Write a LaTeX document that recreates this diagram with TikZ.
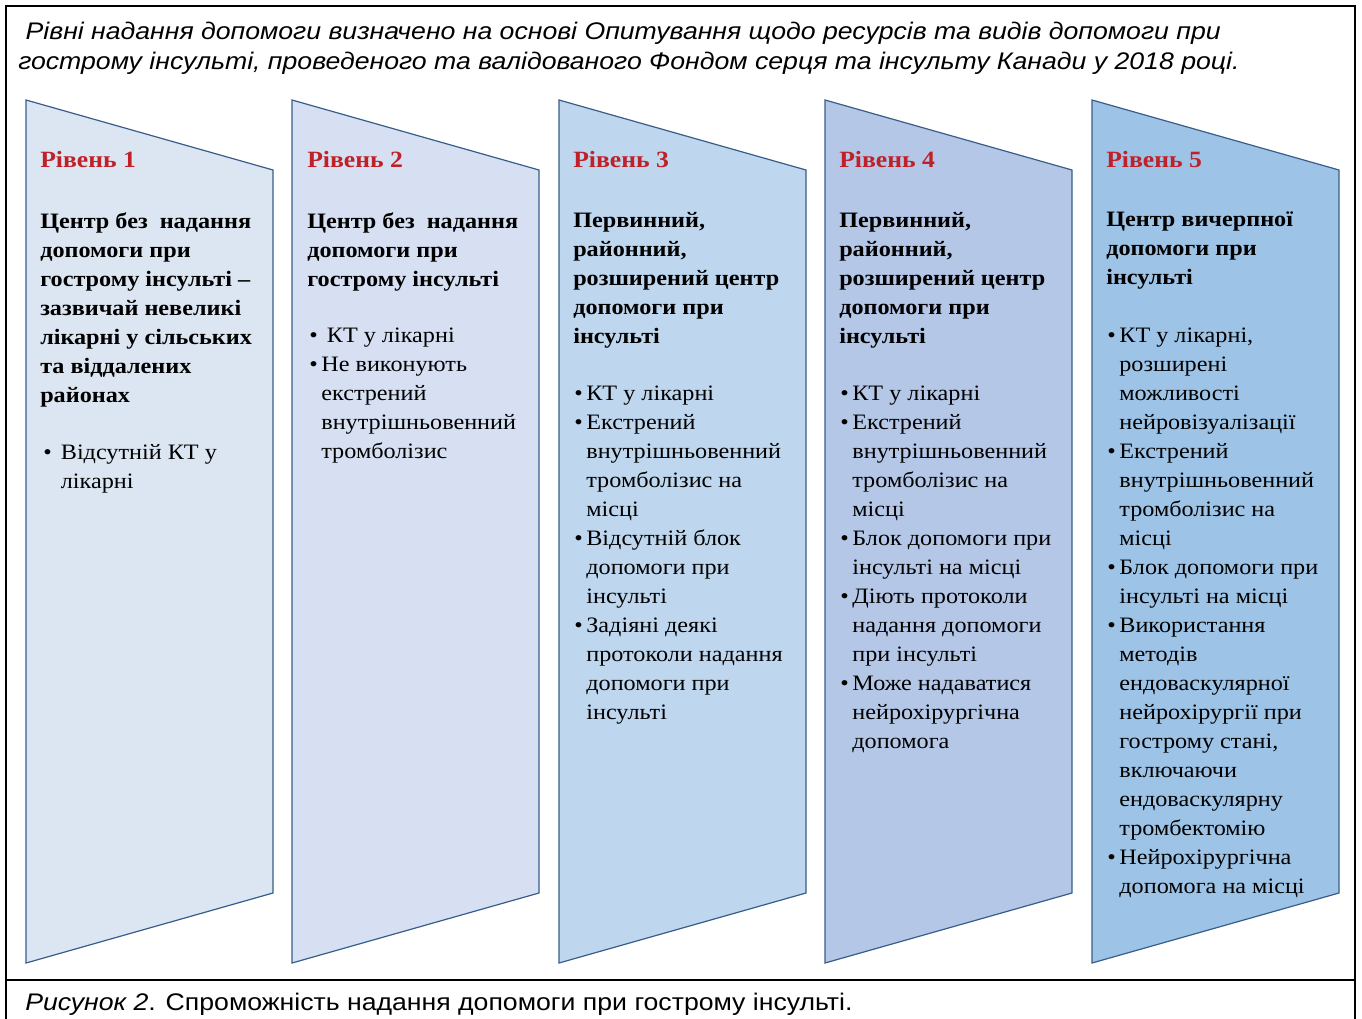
\documentclass[tikz,border=0pt]{standalone}
\usepackage{fontspec}
\setmainfont{Liberation Serif}[FakeStretch=1.1]
\newfontfamily\capfont{Liberation Sans}[FakeStretch=1.11]
\usetikzlibrary{positioning}
\definecolor{lvlone}{RGB}{220,230,242}
\definecolor{lvltwo}{RGB}{214,224,242}
\definecolor{lvlthree}{RGB}{190,215,238}
\definecolor{lvlfour}{RGB}{180,199,231}
\definecolor{lvlfive}{RGB}{157,195,230}
\definecolor{lvlred}{RGB}{192,32,40}
\definecolor{lvledge}{RGB}{56,93,138}
% bullet and hanging indent for the lists
\newcommand{\itemdot}[1][0.55em]{\makebox[#1][l]{\textbullet}}
\newcommand{\itemgap}[1][0.55em]{\hspace*{#1}}

\begin{document}
\begin{tikzpicture}[x=0.75pt,y=-0.75pt,
  level/.style={draw=lvledge,line width=0.9pt},
  lvltag/.style={anchor=base west,inner sep=0,text=lvlred,font=\fontsize{17.5}{21.75}\selectfont\bfseries},
  head/.style={anchor=north west,inner sep=0,align=left,font=\fontsize{16.5}{21.75}\selectfont\bfseries},
  items/.style={anchor=north west,inner sep=0,align=left,font=\fontsize{16.5}{21.75}\selectfont},
  note/.style={inner sep=0,align=left,font=\capfont\fontsize{18}{22.5}\selectfont}]
  \useasboundingbox (0,0) rectangle (1362,1019);
  % Frame
  \draw[line width=1.2pt] (6,1030) -- (6,6) -- (1355,6) -- (1355,1030);
  \draw[line width=1.2pt] (6,980) -- (1355,980);
  \node[note,anchor=north west] (title) at (18,22)
    {\itshape ~Рівні надання допомоги визначено на основі Опитування щодо ресурсів та видів допомоги при\\
     \itshape гострому інсульті, проведеного та валідованого Фондом серця та інсульту Канади у 2018 році.};
  \node[note,anchor=base west] (caption) at (25,1010)
    {\textit{Рисунок 2}. Спроможність надання допомоги при гострому інсульті.};
  % Panels
  \foreach \xl/\col in {26/lvlone,292/lvltwo,559/lvlthree,825/lvlfour,1092/lvlfive}
    \draw[level,fill=\col] (\xl,100) -- ++(247,70) -- ++(0,723) -- ++(-247,70) -- cycle;
  % Level 1
  \node[lvltag] (lvl1) at (40,168) {Рівень 1};
  \node[head] (head1) at (40,212) {Центр без~ надання\\допомоги при\\гострому інсульті –\\зазвичай невеликі\\лікарні у сільських\\та віддалених\\районах};
  \node[items] (list1) at (43,444) {\itemdot[0.8em]Відсутній КТ у\\\itemgap[0.8em]лікарні};
  % Level 2
  \node[lvltag] (lvl2) at (307,168) {Рівень 2};
  \node[head] (head2) at (307,212) {Центр без~ надання\\допомоги при\\гострому інсульті};
  \node[items] (list2) at (309,328) {\itemdot[0.8em]КТ у лікарні\\
    \itemdot Не виконують\\\itemgap екстрений\\\itemgap внутрішньовенний\\\itemgap тромболізис};
  % Level 3
  \node[lvltag] (lvl3) at (573,168) {Рівень 3};
  \node[head] (head3) at (573,212) {Первинний,\\районний,\\розширений центр\\допомоги при\\інсульті};
  \node[items] (list3) at (574,386) {\itemdot КТ у лікарні\\
    \itemdot Екстрений\\\itemgap внутрішньовенний\\\itemgap тромболізис на\\\itemgap місці\\
    \itemdot Відсутній блок\\\itemgap допомоги при\\\itemgap інсульті\\
    \itemdot Задіяні деякі\\\itemgap протоколи надання\\\itemgap допомоги при\\\itemgap інсульті};
  % Level 4
  \node[lvltag] (lvl4) at (839,168) {Рівень 4};
  \node[head] (head4) at (839,212) {Первинний,\\районний,\\розширений центр\\допомоги при\\інсульті};
  \node[items] (list4) at (840,386) {\itemdot КТ у лікарні\\
    \itemdot Екстрений\\\itemgap внутрішньовенний\\\itemgap тромболізис на\\\itemgap місці\\
    \itemdot Блок допомоги при\\\itemgap інсульті на місці\\
    \itemdot Діють протоколи\\\itemgap надання допомоги\\\itemgap при інсульті\\
    \itemdot Може надаватися\\\itemgap нейрохірургічна\\\itemgap допомога};
  % Level 5
  \node[lvltag] (lvl5) at (1106,168) {Рівень 5};
  \node[head] (head5) at (1106,212) {Центр вичерпної\\допомоги при\\інсульті};
  \node[items] (list5) at (1107,328) {\itemdot КТ у лікарні,\\\itemgap розширені\\\itemgap можливості\\\itemgap нейровізуалізації\\
    \itemdot Екстрений\\\itemgap внутрішньовенний\\\itemgap тромболізис на\\\itemgap місці\\
    \itemdot Блок допомоги при\\\itemgap інсульті на місці\\
    \itemdot Використання\\\itemgap методів\\\itemgap ендоваскулярної\\\itemgap нейрохірургії при\\\itemgap гострому стані,\\\itemgap включаючи\\\itemgap ендоваскулярну\\\itemgap тромбектомію\\
    \itemdot Нейрохірургічна\\\itemgap допомога на місці};
\end{tikzpicture}
\end{document}
